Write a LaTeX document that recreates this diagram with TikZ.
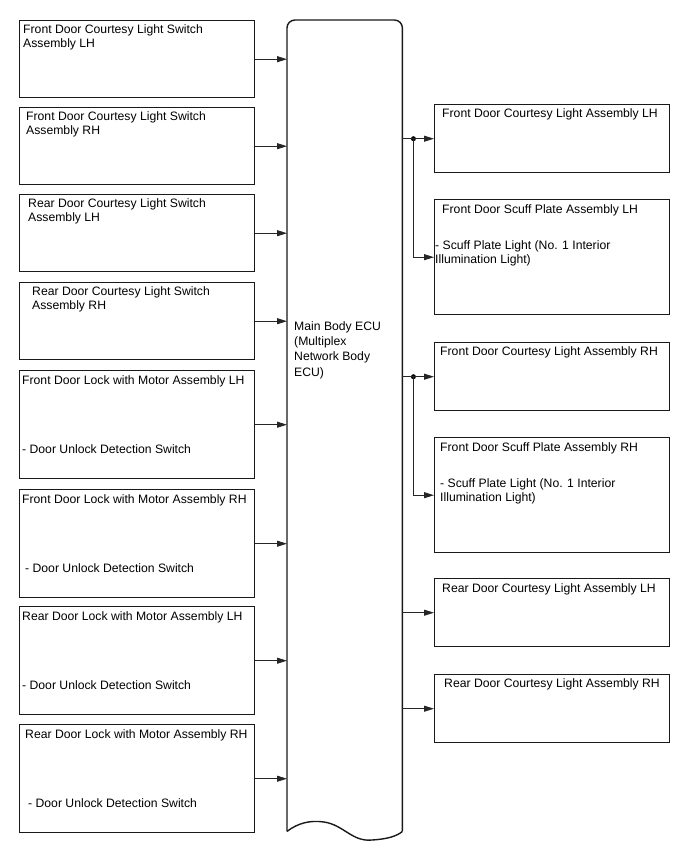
\documentclass[tikz,border=0pt]{standalone}
\usepackage{fontspec}
\setmainfont{Liberation Sans}
\usetikzlibrary{positioning,arrows.meta,calc}
\tikzset{
  boxbase/.style={draw=black!90, line width=1.4pt, inner sep=0pt, anchor=north west,
                  minimum width=235pt},
  inbox/.style={boxbase, minimum height=77pt},
  lockbox/.style={boxbase, minimum height=108pt},
  outbox/.style={boxbase, minimum height=68pt},
  scuffbox/.style={boxbase, minimum height=115pt},
  ecubox/.style={inner sep=0pt, anchor=north west, minimum width=115pt, minimum height=811pt},
  eculine/.style={draw=black!90, line width=1.4pt},
  txt/.style={font=\fontsize{12.2}{14.5}\selectfont, inner sep=0pt, anchor=north west, align=left},
  ecutxt/.style={txt, font=\fontsize{12.2}{15.2}\selectfont},
  sig/.style={-{Triangle[length=10pt,width=6pt]}, line width=0.8pt, black!85},
  jdot/.style={circle, fill=black, inner sep=0pt, minimum size=5pt}
}

\begin{document}
\begin{tikzpicture}[x=1pt, y=-1pt]
\useasboundingbox (0,0) rectangle (688,852);

% inputs
\node[inbox] (L1) at (19,20) {};
\node[inbox] (L2) at (19,107) {};
\node[inbox] (L3) at (19,194) {};
\node[inbox] (L4) at (19,282) {};
\node[lockbox] (L5) at (19,370) {};
\node[lockbox] (L6) at (19,489) {};
\node[lockbox] (L7) at (19,606) {};
\node[lockbox] (L8) at (19,724) {};

\node[txt] (L1t) at ($(L1.north west)+(4,4.4)$) {Front Door Courtesy Light Switch\\Assembly LH};
\node[txt] (L2t) at ($(L2.north west)+(7,4.4)$) {Front Door Courtesy Light Switch\\Assembly RH};
\node[txt] (L3t) at ($(L3.north west)+(9,4.4)$) {Rear Door Courtesy Light Switch\\Assembly LH};
\node[txt] (L4t) at ($(L4.north west)+(13,4.4)$) {Rear Door Courtesy Light Switch\\Assembly RH};
\node[txt] (L5t) at ($(L5.north west)+(3,5)$) {Front Door Lock with Motor Assembly LH};
\node[txt] (L5s) at ($(L5.north west)+(3,74.4)$) {- Door Unlock Detection Switch};
\node[txt] (L6t) at ($(L6.north west)+(3,5)$) {Front Door Lock with Motor Assembly RH};
\node[txt] (L6s) at ($(L6.north west)+(6,74.4)$) {- Door Unlock Detection Switch};
\node[txt] (L7t) at ($(L7.north west)+(3,5)$) {Rear Door Lock with Motor Assembly LH};
\node[txt] (L7s) at ($(L7.north west)+(3,74.4)$) {- Door Unlock Detection Switch};
\node[txt] (L8t) at ($(L8.north west)+(6,5)$) {Rear Door Lock with Motor Assembly RH};
\node[txt] (L8s) at ($(L8.north west)+(9,74.4)$) {- Door Unlock Detection Switch};

% ECU
\node[ecubox] (ecu) at (287,20) {};
\draw[eculine, rounded corners=8pt] (ecu.south west) -- (ecu.north west) -- (ecu.north east) -- (ecu.south east);
\draw[eculine] (ecu.south west) .. controls (298,823) and (310,820) .. (324,822)
  .. controls (344,825) and (352,842) .. (372,840) .. controls (388,839) and (397,836) .. (ecu.south east);
\node[ecutxt] (ecut) at ($(ecu.north west)+(7,301.4)$) {Main Body ECU\\(Multiplex\\Network Body\\ECU)};

% outputs
\node[outbox] (R1) at (434,104) {};
\node[scuffbox] (S1) at (434,199) {};
\node[outbox] (R2) at (434,342) {};
\node[scuffbox] (S2) at (434,437) {};
\node[outbox] (R3) at (434,578) {};
\node[outbox] (R4) at (434,674) {};

\node[txt] (R1t) at ($(R1.north west)+(8,4.4)$) {Front Door Courtesy Light Assembly LH};
\node[txt] (S1t) at ($(S1.north west)+(8,5.4)$) {Front Door Scuff Plate Assembly LH};
\node[txt] (S1s) at ($(S1.north west)+(1,41.4)$) {- Scuff Plate Light (No. 1 Interior\\Illumination Light)};
\node[txt] (R2t) at ($(R2.north west)+(6,4.4)$) {Front Door Courtesy Light Assembly RH};
\node[txt] (S2t) at ($(S2.north west)+(6,5.4)$) {Front Door Scuff Plate Assembly RH};
\node[txt] (S2s) at ($(S2.north west)+(6,41.4)$) {- Scuff Plate Light (No. 1 Interior\\Illumination Light)};
\node[txt] (R3t) at ($(R3.north west)+(8,5.4)$) {Rear Door Courtesy Light Assembly LH};
\node[txt] (R4t) at ($(R4.north west)+(10,4.4)$) {Rear Door Courtesy Light Assembly RH};

% signals in
\draw[sig] (L1.east) -- (L1.east -| ecu.west);
\draw[sig] (L2.east) -- (L2.east -| ecu.west);
\draw[sig] (L3.east) -- (L3.east -| ecu.west);
\draw[sig] (L4.east) -- (L4.east -| ecu.west);
\draw[sig] (L5.east) -- (L5.east -| ecu.west);
\draw[sig] (L6.east) -- (L6.east -| ecu.west);
\draw[sig] (L7.east) -- (L7.east -| ecu.west);
\draw[sig] (L8.east) -- (L8.east -| ecu.west);

% signals out
\node[jdot] (j1) at ($(ecu.east |- R1.west)+(11,0)$) {};
\node[jdot] (j2) at ($(ecu.east |- R2.west)+(11,0)$) {};
\draw[sig] (ecu.east |- R1.west) -- (R1.west);
\draw[sig] (j1.center) |- (S1.west);
\draw[sig] (ecu.east |- R2.west) -- (R2.west);
\draw[sig] (j2.center) |- (S2.west);
\draw[sig] (ecu.east |- R3.west) -- (R3.west);
\draw[sig] (ecu.east |- R4.west) -- (R4.west);
\end{tikzpicture}
\end{document}
